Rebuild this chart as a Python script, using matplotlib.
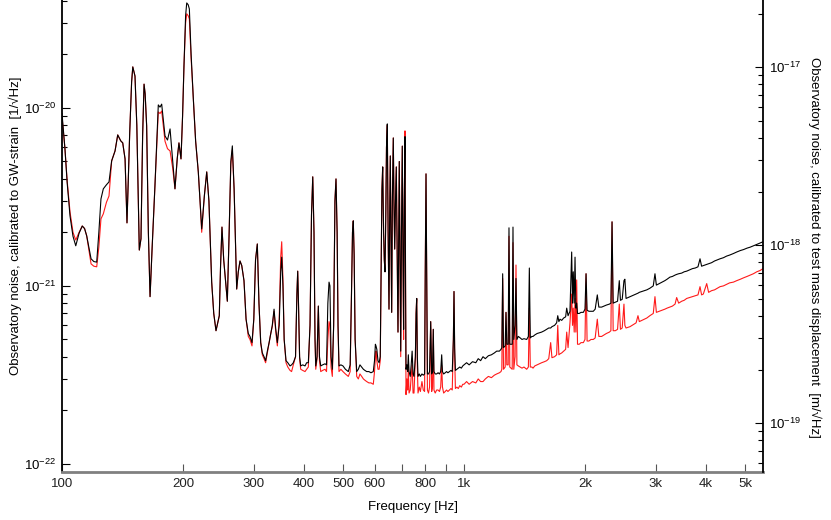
import matplotlib
matplotlib.use("Agg")
import matplotlib.pyplot as plt
import numpy as np
from matplotlib.ticker import FixedLocator, LogLocator, NullFormatter, NullLocator

# ---- data ------------------------------------------------------------------
# frequency [Hz]; strain amplitude in units of 1e-21 / sqrt(Hz)
freq = [
    100, 101.7, 103, 104.7, 106.5, 108.2, 110.3, 112.3, 113.8, 115.2,
    118.1, 120.0, 122.0, 123.5, 125.0, 126.7, 129.0, 130.9, 132.9, 135.5,
    137.6, 140.0, 141.6, 143.5, 145.1, 147.4, 149.0, 150.0, 151.9, 153.5,
    154.8, 155.7, 157.2, 158.7, 160.0, 161.0, 162.4, 164.0, 165.6, 167.5,
    170.3, 173.6, 175.3, 177.0, 180.4, 183.0, 185.7, 188.5, 191.0, 193.5,
    195.4, 197.7, 199.5, 201.1, 203.0, 204.3, 206.0, 207.4, 209.5, 212.2,
    215.0, 218.3, 220.5, 222.6, 226.0, 229.1, 232.0, 235.7, 238.5, 241.6,
    246.2, 248.0, 250.0, 252.5, 257.8, 260.5, 263.0, 265.3, 268.0, 272.0,
    274.5, 277.2, 280.0, 283.6, 287.0, 290.7, 293.5, 296.9, 300.0, 303.0,
    306.1, 309.0, 312.1, 315.0, 318.1, 321.0, 324.2, 327.5, 330.6, 333.5,
    336.9, 340.0, 343.3, 347.0, 350.0, 352.0, 354.5, 357.0, 360.8, 364.5,
    369.2, 372.5, 376.2, 381.0, 384.0, 385.8, 387.5, 390.0, 392.5, 397.0,
    402.3, 406.0, 410.0, 414.0, 417.5, 420.5, 423.5, 426.0, 427.8, 431.0,
    434.2, 437.0, 440.2, 445.0, 451.1, 455.0, 458.5, 461.6, 464.0, 467.0,
    470.4, 474.0, 477.5, 480.4, 483.5, 486.0, 488.7, 494.0, 500.0, 507.0,
    515.5, 521.0, 525.0, 528.0, 530.4, 533.0, 536.0, 540.9, 546.0, 551.0,
    556.6, 562.0, 567.0, 572.8, 580.0, 587.0, 594.8, 599.0, 602.0, 604.0,
    607.0, 611.0, 615.0, 619.0, 622.5, 625.0, 627.7, 631.0, 633.5, 636.1,
    639.0, 641.5, 644.5, 647.5, 650.8, 653.0, 655.7, 658.0, 660.9, 663.5,
    667.0, 669.5, 672.4, 675.5, 678.6, 682.0, 685.2, 688.0, 690.3, 693.0,
    696.0, 699.0, 702.3, 705.0, 707.6, 710.5, 713.2, 715.5, 717.4, 721.0,
    724.0, 727.0, 730.0, 735.0, 739.0, 743.0, 747.0, 751.0, 757.0, 760.0,
    762.7, 765.5, 768.5, 774.0, 779.0, 786.0, 792.0, 798.0, 801.0, 804.5,
    808.0, 811.0, 816.0, 821.0, 826.4, 831.0, 835.0, 838.7, 842.0, 848.0,
    855.0, 862.0, 869.0, 875.0, 880.1, 884.0, 890.0, 898.0, 905.0, 912.0,
    920.0, 928.0, 935.0, 941.0, 944.4, 948.0, 952.0, 960.0, 968.0, 976.0,
    985.0, 993.0, 1000, 1015, 1030, 1050, 1070, 1085, 1100, 1115,
    1130, 1150, 1170, 1190, 1206, 1225, 1236, 1242, 1248, 1254,
    1266, 1272, 1278, 1288, 1294, 1300, 1318, 1324, 1330, 1340,
    1347, 1354, 1365, 1380, 1394, 1410, 1432, 1446, 1454, 1462,
    1475, 1485, 1500, 1520, 1540, 1560, 1585, 1606, 1625, 1643,
    1655, 1680, 1700, 1711, 1722, 1733, 1750, 1770, 1790, 1801,
    1815, 1835, 1853, 1862, 1870, 1880, 1889, 1898, 1907, 1916,
    1935, 1955, 1981, 2000, 2012, 2024, 2045, 2070, 2097, 2120,
    2146, 2165, 2200, 2230, 2260, 2300, 2320, 2335, 2350, 2380,
    2410, 2434, 2450, 2475, 2500, 2513, 2530, 2560, 2588, 2620,
    2650, 2680, 2709, 2730, 2770, 2810, 2850, 2900, 2957, 2986,
    3010, 3060, 3110, 3160, 3200, 3253, 3300, 3350, 3381, 3420,
    3480, 3530, 3581, 3640, 3700, 3760, 3820, 3865, 3900, 3939,
    4016, 4060, 4130, 4200, 4270, 4335, 4420, 4500, 4580, 4680,
    4769, 4870, 4960, 5060, 5150, 5246, 5350, 5450, 5544,
]

# black trace
strain_black = [
    9.3, 5.9, 3.8, 2.47, 1.9, 1.68, 1.98, 2.17, 2.1, 1.91,
    1.42, 1.37, 1.36, 2.0, 3.08, 3.51, 3.70, 3.84, 5.04, 5.73,
    7.05, 6.53, 6.36, 5.17, 2.26, 7.33, 14.0, 17.0, 15.1, 8.0,
    3.08, 1.59, 1.84, 7.0, 13.6, 12.0, 7.92, 2.0, 0.87, 1.6,
    3.65, 10.4, 10.1, 10.5, 6.96, 6.6, 7.62, 5.0, 3.51, 5.2,
    6.36, 5.17, 9.0, 17.2, 33.0, 38.9, 38.0, 36.0, 20.0, 11.2,
    6.5, 4.37, 3.0, 2.09, 3.2, 4.37, 3.0, 1.05, 0.70, 0.56,
    0.68, 1.3, 2.14, 1.4, 0.82, 2.0, 5.0, 6.12, 3.5, 0.96,
    1.2, 1.38, 1.30, 1.07, 0.65, 0.54, 0.52, 0.48, 0.65, 1.40,
    1.72, 0.80, 0.48, 0.42, 0.40, 0.38, 0.43, 0.48, 0.54, 0.60,
    0.74, 0.58, 0.48, 0.60, 1.2, 1.45, 1.0, 0.50, 0.38, 0.37,
    0.355, 0.36, 0.37, 0.40, 0.9, 1.21, 0.8, 0.40, 0.355, 0.36,
    0.355, 0.37, 0.37, 0.6, 2.5, 4.10, 2.0, 0.5, 0.355, 0.40,
    0.77, 0.40, 0.355, 0.36, 0.365, 0.36, 0.80, 1.05, 1.0, 0.40,
    0.34, 0.6, 3.0, 3.99, 2.0, 0.6, 0.355, 0.36, 0.355, 0.34,
    0.33, 0.36, 0.9, 2.0, 2.32, 1.5, 0.5, 0.33, 0.34, 0.36,
    0.35, 0.34, 0.335, 0.33, 0.33, 0.325, 0.33, 0.38, 0.47, 0.46,
    0.44, 0.38, 0.37, 0.40, 1.5, 3.5, 4.66, 2.0, 1.4, 1.2,
    2.5, 6.0, 8.13, 2.0, 0.74, 2.2, 5.37, 2.0, 0.71, 3.0,
    6.78, 3.0, 1.61, 3.0, 4.66, 1.5, 0.55, 2.0, 5.0, 1.5,
    0.43, 2.0, 6.1, 1.5, 0.57, 3.0, 6.9, 1.0, 0.34, 0.36,
    0.33, 0.41, 0.33, 0.31, 0.36, 0.43, 0.32, 0.31, 0.4, 0.7,
    0.85, 0.40, 0.31, 0.32, 0.31, 0.32, 0.315, 0.32, 1.2, 4.26,
    1.0, 0.32, 0.32, 0.33, 0.63, 0.32, 0.33, 0.57, 0.33, 0.32,
    0.32, 0.325, 0.32, 0.33, 0.41, 0.33, 0.32, 0.325, 0.33, 0.325,
    0.33, 0.335, 0.33, 0.5, 0.93, 0.45, 0.335, 0.34, 0.345, 0.35,
    0.345, 0.355, 0.36, 0.37, 0.36, 0.375, 0.37, 0.39, 0.38, 0.40,
    0.39, 0.405, 0.41, 0.42, 0.43, 0.43, 0.44, 0.45, 1.17, 0.45,
    0.46, 0.71, 0.47, 0.47, 2.12, 0.47, 0.47, 2.14, 0.50, 0.6,
    1.1, 0.50, 0.52, 0.51, 0.50, 0.505, 0.50, 0.52, 1.26, 0.51,
    0.52, 0.52, 0.53, 0.54, 0.545, 0.55, 0.56, 0.57, 0.58, 0.58,
    0.59, 0.60, 0.62, 0.68, 0.63, 0.65, 0.64, 0.66, 0.67, 0.75,
    0.68, 0.72, 1.55, 0.8, 1.2, 0.8, 1.45, 0.75, 0.8, 0.70,
    0.70, 0.71, 0.71, 0.74, 1.17, 0.73, 0.72, 0.72, 0.72, 0.74,
    0.89, 0.76, 0.76, 0.77, 0.78, 0.79, 0.80, 2.29, 0.80, 0.81,
    0.82, 1.07, 0.83, 0.84, 1.07, 1.09, 0.85, 0.86, 0.87, 0.88,
    0.89, 0.90, 0.91, 0.92, 0.93, 0.94, 0.95, 0.97, 1.00, 1.17,
    1.01, 1.03, 1.05, 1.07, 1.09, 1.12, 1.13, 1.15, 1.16, 1.17,
    1.18, 1.20, 1.21, 1.23, 1.25, 1.26, 1.28, 1.42, 1.29, 1.30,
    1.32, 1.33, 1.35, 1.38, 1.40, 1.42, 1.44, 1.47, 1.49, 1.52,
    1.55, 1.58, 1.60, 1.63, 1.65, 1.68, 1.71, 1.74, 1.77,
]

# red trace
strain_red = [
    8.9, 5.9, 3.9, 2.6, 2.0, 1.81, 2.0, 2.17, 2.1, 1.91,
    1.33, 1.29, 1.28, 1.65, 2.38, 2.54, 2.95, 3.20, 5.04, 5.73,
    7.05, 6.53, 6.36, 5.17, 2.26, 7.33, 14.0, 17.0, 15.1, 8.0,
    3.08, 1.59, 1.84, 7.0, 13.6, 12.0, 7.92, 2.0, 0.87, 1.6,
    3.65, 9.5, 9.3, 9.6, 6.5, 5.9, 5.73, 4.6, 3.51, 5.2,
    6.36, 5.17, 9.0, 17.2, 30.0, 33.8, 33.0, 31.6, 19.0, 11.2,
    6.5, 4.37, 3.0, 2.0, 3.2, 4.37, 3.0, 1.05, 0.70, 0.56,
    0.68, 1.3, 2.14, 1.4, 0.82, 2.0, 4.8, 5.8, 3.5, 0.96,
    1.2, 1.38, 1.30, 1.07, 0.65, 0.52, 0.50, 0.46, 0.65, 1.40,
    1.72, 0.80, 0.48, 0.41, 0.39, 0.37, 0.42, 0.48, 0.54, 0.59,
    0.72, 0.56, 0.46, 0.65, 1.45, 1.77, 1.1, 0.50, 0.37, 0.35,
    0.335, 0.33, 0.36, 0.40, 0.9, 1.21, 0.8, 0.39, 0.34, 0.335,
    0.33, 0.34, 0.35, 0.6, 2.5, 4.10, 2.0, 0.5, 0.34, 0.39,
    0.77, 0.38, 0.33, 0.335, 0.34, 0.33, 0.50, 0.63, 0.60, 0.35,
    0.31, 0.6, 3.0, 3.99, 2.0, 0.6, 0.33, 0.34, 0.33, 0.32,
    0.31, 0.33, 0.9, 2.0, 2.32, 1.5, 0.5, 0.31, 0.30, 0.32,
    0.31, 0.30, 0.295, 0.29, 0.285, 0.285, 0.28, 0.33, 0.40, 0.43,
    0.38, 0.34, 0.34, 0.38, 1.5, 3.5, 4.66, 2.0, 1.4, 1.2,
    2.5, 6.0, 8.0, 2.0, 0.74, 2.2, 5.37, 2.0, 0.71, 3.0,
    6.78, 3.0, 1.61, 3.0, 4.66, 1.5, 0.55, 2.0, 5.0, 1.5,
    0.40, 2.0, 6.1, 1.5, 0.50, 3.0, 7.43, 1.0, 0.245, 0.30,
    0.26, 0.34, 0.25, 0.26, 0.31, 0.36, 0.25, 0.25, 0.4, 0.7,
    0.85, 0.35, 0.25, 0.27, 0.255, 0.29, 0.26, 0.255, 1.2, 4.26,
    1.0, 0.26, 0.25, 0.27, 0.63, 0.255, 0.27, 0.57, 0.26, 0.25,
    0.26, 0.26, 0.255, 0.27, 0.357, 0.27, 0.25, 0.255, 0.26, 0.255,
    0.26, 0.265, 0.26, 0.5, 0.93, 0.4, 0.265, 0.27, 0.265, 0.275,
    0.27, 0.28, 0.28, 0.29, 0.28, 0.29, 0.285, 0.30, 0.29, 0.29,
    0.30, 0.31, 0.305, 0.315, 0.32, 0.325, 0.33, 0.34, 1.10, 0.34,
    0.35, 0.71, 0.36, 0.36, 1.90, 0.35, 0.34, 1.75, 0.34, 0.4,
    1.31, 0.36, 0.355, 0.35, 0.345, 0.35, 0.34, 0.35, 0.75, 0.35,
    0.35, 0.345, 0.355, 0.36, 0.365, 0.37, 0.375, 0.38, 0.39, 0.48,
    0.395, 0.40, 0.41, 0.60, 0.41, 0.415, 0.42, 0.43, 0.44, 0.55,
    0.45, 0.62, 0.90, 0.6, 0.75, 0.55, 0.85, 0.55, 1.08, 0.47,
    0.47, 0.48, 0.48, 0.50, 1.17, 0.49, 0.49, 0.50, 0.50, 0.51,
    0.65, 0.52, 0.52, 0.53, 0.54, 0.55, 0.56, 2.29, 0.56, 0.56,
    0.57, 0.79, 0.57, 0.58, 0.79, 0.60, 0.58, 0.585, 0.59, 0.60,
    0.61, 0.62, 0.68, 0.63, 0.64, 0.65, 0.66, 0.68, 0.70, 0.87,
    0.71, 0.72, 0.73, 0.74, 0.75, 0.76, 0.77, 0.79, 0.86, 0.80,
    0.82, 0.83, 0.85, 0.86, 0.87, 0.88, 0.89, 0.99, 0.89, 0.90,
    1.03, 0.92, 0.94, 0.95, 0.97, 0.99, 1.00, 1.02, 1.04, 1.05,
    1.07, 1.09, 1.11, 1.13, 1.15, 1.17, 1.20, 1.22, 1.25,
]

x_ticks = [100, 200, 300, 400, 500, 600, 700, 800, 900, 1000, 2000, 3000, 4000, 5000]
x_tick_labels = ["100", "200", "300", "400", "500", "600", "", "800", "", "1k", "2k", "3k", "4k", "5k"]
strain_ticks = [1e-22, 1e-21, 1e-20]
disp_ticks = [1e-19, 1e-18, 1e-17]

STRAIN_UNIT = 1e-21
DISP_PER_STRAIN = 590.0  # right axis = left axis scaled by this factor

# ---- style ------------------------------------------------------------------
plt.rcParams["font.family"] = ["Liberation Sans", "DejaVu Sans"]
plt.rcParams["mathtext.fontset"] = "custom"
plt.rcParams["mathtext.rm"] = "Liberation Sans"
plt.rcParams["mathtext.it"] = "Liberation Sans:italic"
plt.rcParams["mathtext.bf"] = "Liberation Sans:bold"
plt.rcParams["axes.unicode_minus"] = False

W, H = 831, 520
fig = plt.figure(figsize=(W / 100, H / 100), dpi=100)
ax = fig.add_axes([62 / W, 48 / H, 701 / W, 472 / H])

f = np.array(freq)
ax.plot(f, np.array(strain_red) * STRAIN_UNIT, color="#ff1a1a", lw=0.8)
ax.plot(f, np.array(strain_black) * STRAIN_UNIT, color="black", lw=0.8)

ax.set_xscale("log")
ax.set_yscale("log")
ax.set_xlim(100, 5544)
ylo, yhi = 9.0e-23, 4.04e-20
ax.set_ylim(ylo, yhi)

ax.xaxis.set_major_locator(FixedLocator(x_ticks))
ax.set_xticklabels(x_tick_labels)
ax.xaxis.set_minor_locator(NullLocator())
ax.yaxis.set_major_locator(FixedLocator(strain_ticks))
ax.yaxis.set_minor_locator(LogLocator(base=10, subs=np.arange(2, 10)))
ax.yaxis.set_minor_formatter(NullFormatter())

ax.tick_params(which="both", direction="in", labelsize=9.5, width=0.8)
ax.tick_params(which="major", length=6, pad=4)
ax.tick_params(which="minor", length=3.5)
ax.tick_params(axis="x", colors="#555555", labelcolor="#222222")
ax.tick_params(axis="y", right=False)

for side in ("top", "right"):
    ax.spines[side].set_visible(False)
ax.spines["left"].set_linewidth(1.3)
ax.spines["bottom"].set_color("#808080")
ax.spines["bottom"].set_linewidth(2.0)

# right axis: displacement
ax2 = ax.twinx()
ax2.set_yscale("log")
ax2.set_ylim(ylo * DISP_PER_STRAIN, yhi * DISP_PER_STRAIN)
ax2.yaxis.set_major_locator(FixedLocator(disp_ticks))
ax2.yaxis.set_minor_locator(LogLocator(base=10, subs=np.arange(2, 10)))
ax2.yaxis.set_minor_formatter(NullFormatter())
ax2.tick_params(which="both", direction="in", labelsize=9.5, width=0.8)
ax2.tick_params(which="major", length=6, pad=4)
ax2.tick_params(which="minor", length=3.5)
for side in ("top", "left", "bottom"):
    ax2.spines[side].set_visible(False)
ax2.spines["right"].set_linewidth(1.3)

fig.text(413 / W, 1 - 507 / H, "Frequency [Hz]", ha="center", va="center", fontsize=9.5)
fig.text(15 / W, 1 - 226 / H, "Observatory noise, calibrated to GW-strain  [1/\u221aHz]",
         rotation=90, ha="center", va="center", fontsize=9.5)
fig.text(815 / W, 1 - 247 / H, "Observatory noise, calibrated to test mass displacement  [m/\u221aHz]",
         rotation=270, ha="center", va="center", fontsize=9.5)

fig.savefig("out.png", dpi=100)
